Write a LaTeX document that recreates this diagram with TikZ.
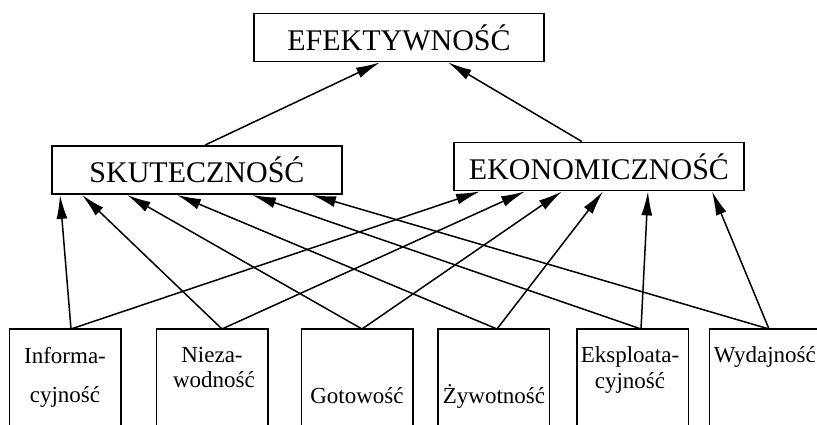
\documentclass[tikz,border=0pt]{standalone}
\usepackage{fontspec}
\setmainfont{Liberation Serif}
\usetikzlibrary{arrows.meta}

\begin{document}
\begin{tikzpicture}[
        x=1pt, y=-1pt,
        line width=1.5pt,
        goal/.style={draw, rectangle, line width=1.8pt, minimum width=290pt, minimum height=48pt, inner sep=0pt, font=\fontsize{30}{36}\selectfont},
        factor/.style={rectangle, minimum width=110pt, minimum height=100pt, anchor=north, inner sep=0pt},
        word/.style={anchor=base, inner sep=0pt, font=\fontsize{23}{27}\selectfont},
        arr/.style={-{Latex[length=24pt,width=11pt]}}
    ]
  \useasboundingbox (0,0) rectangle (817,425);
  \clip (0,0) rectangle (817,425);

  % Nodes
  \node[goal] (efek) at (399,37.5) {EFEKTYWNOŚĆ};
  \node[goal] (skut) at (197,170) {SKUTECZNOŚĆ};
  \node[goal] (ekon) at (599,166.5) {EKONOMICZNOŚĆ};

  \node[factor] (info) at (65,329) {};
  \node[factor] (niez) at (212,329) {};
  \node[factor] (goto) at (357,329) {};
  \node[factor] (zyw) at (493.5,329) {};
  \node[factor] (eksp) at (632.5,329) {};
  \node[factor] (wyd) at (765,329) {};

  % open boxes
  \foreach \b in {info,niez,goto,zyw,eksp,wyd}
    \draw (\b.south west) |- (\b.north east) -- (\b.south east);

  \node[word] (info1) at (65,363) {Informa-};
  \node[word] (info2) at (65,402) {cyjność};
  \node[word] (niez1) at (212,362) {Nieza-};
  \node[word] (niez2) at (214,387) {wodność};
  \node[word] (goto1) at (357,403) {Gotowość};
  \node[word] (zyw1) at (494,403) {Żywotność};
  \node[word] (eksp1) at (630,362) {Eksploata-};
  \node[word] (eksp2) at (630,388) {cyjność};
  \node[word, anchor=base west] (wyd1) at (713,362) {Wydajność};

  % Edges
  \draw[arr] ([xshift=8pt]skut.north) -- ([xshift=-19pt]efek.south);
  \draw[arr] ([xshift=-17pt]ekon.north) -- ([xshift=49pt]efek.south);

  \foreach \b/\s/\k/\e in {info/6/-137/-119, niez/10/-115/-74, goto/5/-70/-37,
                           zyw/3.5/-20/4, eksp/8.5/55/49, wyd/4/115/113} {
    \draw[arr] ([xshift=\s pt]\b.north) -- ([xshift=\k pt]skut.south);
    \draw[arr] ([xshift=\s pt]\b.north) -- ([xshift=\e pt]ekon.south);
  }
\end{tikzpicture}
\end{document}
